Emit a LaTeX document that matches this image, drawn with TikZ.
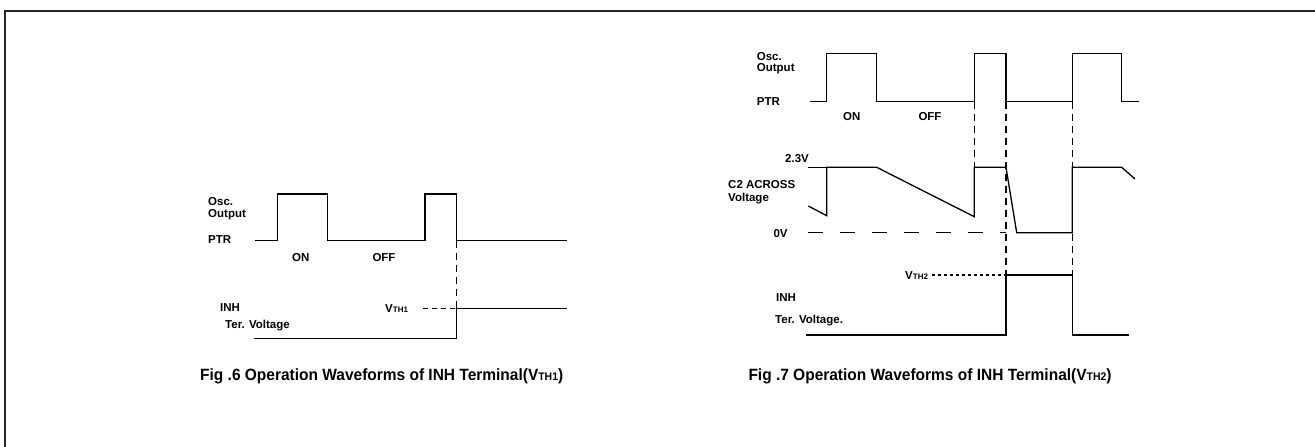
\documentclass[tikz,border=0pt]{standalone}
\usepackage{fontspec}
\setmainfont{Liberation Sans}
\begin{document}
\begin{tikzpicture}[x=1pt,y=-1pt,
  wave/.style={line width=1.3pt, line join=miter},
  lbl/.style={anchor=base west, inner sep=0pt, font=\fontsize{11.5}{13}\selectfont\bfseries},
  lblc/.style={anchor=base, inner sep=0pt, font=\fontsize{11.5}{13}\selectfont\bfseries},
  captxt/.style={anchor=base west, inner sep=0pt, font=\fontsize{16.3}{18}\selectfont\bfseries\addfontfeatures{FakeStretch=0.95}},
  vdash/.style={line width=1.1pt, dash pattern=on 7pt off 5pt},
  hdash/.style={line width=1.1pt, dash pattern=on 5pt off 4pt},
  fdash/.style={line width=1.1pt, dash pattern=on 3pt off 3pt},
  ldash/.style={line width=1.2pt, dash pattern=on 15pt off 17pt},
  frameline/.style={line width=2pt, draw=black!85}]
\useasboundingbox (0,0) rectangle (1315,447);
\draw[frameline] (5,447) -- (5,10.5) -- (1315,10.5);

% ---------------- Fig. 6 ----------------
\node[lbl] (o6a) at (208,205) {Osc.};
\node[lbl] (o6b) at (208,217.5) {Output};
\node[lbl] (p6) at (208,243) {PTR};
\node[lblc] (on6) at (300.7,261) {ON};
\node[lblc] (off6) at (384,261) {OFF};
\node[lbl] (inh6) at (220,311.7) {INH};
\node[lbl] (ter6) at (225,328.5) {Ter. Voltage};
\node[lbl] (vth1) at (385,312) {V{\fontsize{8}{8}\selectfont TH1}};
\coordinate (a6) at (456.7,240.7);
\coordinate (b6) at (456.7,308.3);
\draw[wave] (255,240.7) -- (277.3,240.7) -- (277.3,194) -- (327.3,194) -- (327.3,240.7)
  -- (425,240.7) -- (425,194) -- (456.7,194) -- (a6) -- (567.3,240.7);
\draw[wave] (254,338.3) -- (456.7,338.3) -- (b6) -- (567.3,308.3);
\draw[vdash] (a6) -- (b6);
\coordinate (v1s) at (423,308.3);
\draw[hdash] (v1s) -- (b6);
\node[captxt] (cap6) at (200,380) {Fig .6 Operation Waveforms of INH Terminal(V{\fontsize{11}{11}\selectfont TH1})};

% ---------------- Fig. 7 ----------------
\node[lbl] (o7a) at (756.7,60) {Osc.};
\node[lbl] (o7b) at (756.7,71.7) {Output};
\node[lbl] (p7) at (756.7,105.7) {PTR};
\node[lblc] (on7) at (851.7,120) {ON};
\node[lblc] (off7) at (930,120) {OFF};
\node[lbl] (v23) at (785,162.7) {2.3V};
\node[lbl] (c2a) at (728,188.3) {C2 ACROSS};
\node[lbl] (c2b) at (728,201.7) {Voltage};
\node[lbl] (v0) at (773.3,237.3) {0V};
\node[lbl] (vth2) at (905,279.3) {V{\fontsize{8}{8}\selectfont TH2}};
\node[lbl] (inh7) at (776,301.7) {INH};
\node[lbl] (ter7) at (775,323.3) {Ter. Voltage.};

\coordinate (p1) at (974.3,101.7);
\coordinate (p2) at (1006,101.7);
\coordinate (p3) at (1072.3,101.7);
\coordinate (c1) at (974.3,167.3);
\coordinate (i1) at (1006,275);
\coordinate (i2) at (1072.3,275);
% PTR
\draw[wave] (810,101.7) -- (826.7,101.7) -- (826.7,53.3) -- (876.7,53.3) -- (876.7,101.7)
  -- (p1) -- (974.3,53.3) -- (1006,53.3) -- (p2) -- (p3) -- (1072.3,53.3)
  -- (1121.7,53.3) -- (1121.7,101.7) -- (1139.3,101.7);
% 2.3V tick
\draw[line width=1.3pt] (808,167.3) -- (826.7,167.3);
% C2 waveform
\draw[wave] (808.3,206) -- (826.7,215.7) -- (826.7,167.3) -- (876.7,167.3) -- (974.3,216.7)
  -- (c1) -- (1006,167.3) -- (1016.7,232.7) -- (1072.3,232.7) -- (1072.3,167.3)
  -- (1121.7,167.3) -- (1135,179);
% 0V dashed
\draw[ldash] (808,232.7) -- (1006,232.7);
% INH waveform
\draw[wave] (806,335) -- (1006,335) -- (i1) -- (i2) -- (1072.3,335) -- (1129,335);
% vertical dashes
\draw[vdash] (p1) -- (c1);
\draw[vdash] (p2) -- (i1);
\draw[vdash] (p3) -- (i2);
\coordinate (v2s) at (931.7,275);
\draw[fdash] (v2s) -- (i1);
\node[captxt] (cap7) at (748.3,380) {Fig .7 Operation Waveforms of INH Terminal(V{\fontsize{11}{11}\selectfont TH2})};
\end{tikzpicture}
\end{document}
